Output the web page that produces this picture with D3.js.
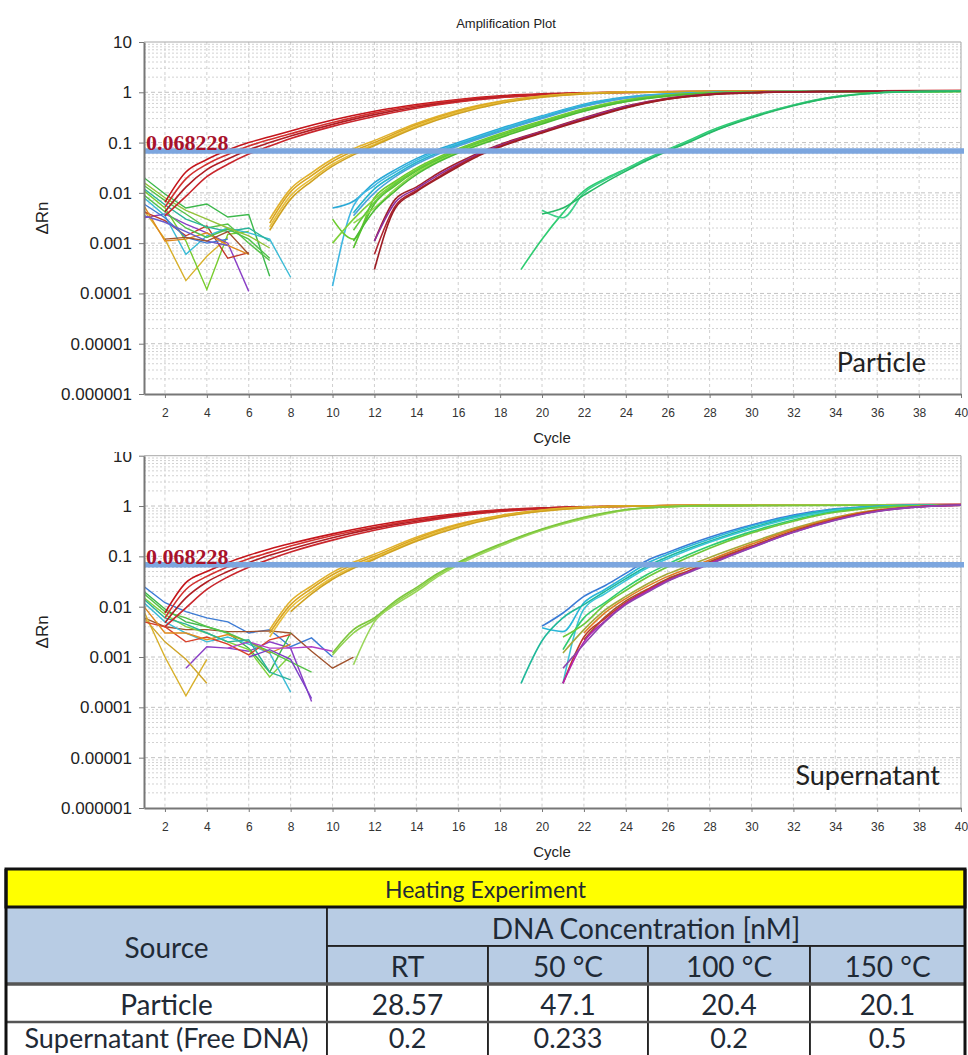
<!DOCTYPE html>
<html>
<head>
<meta charset="utf-8">
<script src="https://cdn.jsdelivr.net/npm/d3@7"></script>
<style>
  body { margin: 0; background: #fff; }
  svg { display: block; }
</style>
</head>
<body>
<div id="wrapper"></div>
<script>
// ---- chart values ----
const plotTitle = 'Amplification Plot'
const xLabel = 'Cycle'
const yLabel = 'ΔRn'
const panelLabels = ['Particle', 'Supernatant']
const cycleTicks = [2, 4, 6, 8, 10, 12, 14, 16, 18, 20, 22, 24, 26, 28, 30, 32, 34, 36, 38, 40]
const rnTicks = [10, 1, 0.1, 0.01, 0.001, 0.0001, 0.00001, 0.000001]
const rnTickLabels = ['10', '1', '0.1', '0.01', '0.001', '0.0001', '0.00001', '0.000001']
const threshold = 0.068228
const thresholdLabel = '0.068228'

// particle: amplification curves [cycle, ΔRn]
const particleAmp = [
  [[2,0.0065],[3,0.026],[4,0.046],[5,0.071],[6,0.1],[7,0.13],[8,0.17],[10,0.28],[12,0.42],[14,0.57],[16,0.72],[18,0.85],[20,0.93],[22,0.98],[26,1.03],[32,1.06],[40,1.08]],
  [[2,0.0052],[3,0.019],[4,0.037],[5,0.058],[6,0.085],[7,0.115],[8,0.15],[10,0.25],[12,0.39],[14,0.54],[16,0.69],[18,0.82],[20,0.91],[22,0.97],[26,1.02],[32,1.06],[40,1.08]],
  [[2,0.0042],[3,0.013],[4,0.029],[5,0.047],[6,0.072],[7,0.1],[8,0.135],[10,0.23],[12,0.36],[14,0.51],[16,0.66],[18,0.8],[20,0.9],[22,0.96],[26,1.02],[32,1.05],[40,1.07]],
  [[2,0.0035],[3,0.0085],[4,0.021],[5,0.037],[6,0.059],[7,0.085],[8,0.12],[10,0.21],[12,0.33],[14,0.48],[16,0.64],[18,0.78],[20,0.88],[22,0.95],[26,1.01],[32,1.05],[40,1.07]],
  [[7,0.003],[8,0.012],[9,0.025],[10,0.047],[11,0.075],[12,0.11],[14,0.24],[16,0.44],[18,0.66],[20,0.84],[22,0.96],[24,1.01],[28,1.04],[40,1.06]],
  [[7,0.0025],[8,0.0105],[9,0.022],[10,0.042],[11,0.068],[12,0.1],[14,0.225],[16,0.42],[18,0.64],[20,0.83],[22,0.95],[24,1.0],[28,1.03],[40,1.05]],
  [[7,0.0021],[8,0.0088],[9,0.019],[10,0.037],[11,0.061],[12,0.092],[14,0.21],[16,0.4],[18,0.62],[20,0.81],[22,0.94],[24,1.0],[28,1.03],[40,1.05]],
  [[7,0.0018],[8,0.0075],[9,0.017],[10,0.034],[11,0.057],[12,0.087],[14,0.2],[16,0.38],[18,0.6],[20,0.8],[22,0.93],[24,0.99],[28,1.03],[40,1.05]],
  [[10,0.005],[11,0.0068],[12,0.016],[13,0.029],[14,0.048],[15,0.072],[16,0.1],[18,0.19],[20,0.34],[22,0.58],[24,0.8],[26,0.93],[28,0.99],[32,1.03],[40,1.05]],
  [[10,0.00014],[11,0.0055],[12,0.014],[13,0.026],[14,0.044],[15,0.067],[16,0.095],[18,0.18],[20,0.33],[22,0.56],[24,0.79],[26,0.92],[28,0.99],[32,1.03],[40,1.05]],
  [[11,0.004],[12,0.012],[13,0.023],[14,0.04],[15,0.062],[16,0.09],[18,0.17],[20,0.31],[22,0.54],[24,0.77],[26,0.91],[28,0.98],[32,1.03],[40,1.05]],
  [[11,0.0035],[12,0.01],[13,0.021],[14,0.037],[15,0.058],[16,0.085],[18,0.165],[20,0.3],[22,0.52],[24,0.76],[26,0.9],[28,0.98],[32,1.03],[40,1.05]],
  [[10,0.003],[11,0.0012],[12,0.008],[13,0.017],[14,0.031],[15,0.05],[16,0.075],[18,0.15],[20,0.27],[22,0.47],[24,0.7],[26,0.88],[28,0.97],[32,1.03],[40,1.05]],
  [[10,0.001],[11,0.003],[12,0.0075],[13,0.016],[14,0.029],[15,0.047],[16,0.071],[18,0.14],[20,0.26],[22,0.46],[24,0.69],[26,0.87],[28,0.97],[32,1.03],[40,1.05]],
  [[11,0.0008],[12,0.006],[13,0.014],[14,0.027],[15,0.044],[16,0.068],[18,0.135],[20,0.25],[22,0.44],[24,0.67],[26,0.86],[28,0.96],[32,1.02],[40,1.05]],
  [[11,0.0025],[12,0.005],[13,0.012],[14,0.025],[15,0.042],[16,0.065],[18,0.13],[20,0.24],[22,0.43],[24,0.66],[26,0.85],[28,0.96],[32,1.02],[40,1.04]],
  [[11,0.0018],[12,0.0065],[13,0.015],[14,0.028],[15,0.046],[16,0.07],[18,0.14],[20,0.255],[22,0.45],[24,0.68],[26,0.87],[28,0.97],[32,1.02],[40,1.04]],
  [[11,0.0011],[12,0.0045],[13,0.011],[14,0.023],[15,0.04],[16,0.062],[18,0.125],[20,0.235],[22,0.42],[24,0.65],[26,0.84],[28,0.95],[32,1.02],[40,1.04]],
  [[12,0.0011],[13,0.0075],[14,0.013],[15,0.024],[16,0.04],[17,0.063],[18,0.092],[20,0.17],[22,0.31],[24,0.53],[26,0.76],[28,0.92],[30,0.99],[34,1.04],[40,1.07]],
  [[12,0.0011],[13,0.0065],[14,0.012],[15,0.022],[16,0.037],[17,0.06],[18,0.088],[20,0.165],[22,0.3],[24,0.52],[26,0.75],[28,0.91],[30,0.99],[34,1.04],[40,1.07]],
  [[12,0.0006],[13,0.0055],[14,0.011],[15,0.02],[16,0.035],[17,0.057],[18,0.085],[20,0.16],[22,0.29],[24,0.5],[26,0.74],[28,0.9],[30,0.98],[34,1.04],[40,1.07]],
  [[12,0.0003],[13,0.005],[14,0.0105],[15,0.019],[16,0.033],[17,0.055],[18,0.082],[20,0.155],[22,0.28],[24,0.49],[26,0.73],[28,0.9],[30,0.98],[34,1.04],[40,1.07]],
  [[19,0.0003],[20,0.0012],[21,0.004],[22,0.011],[23,0.019],[24,0.03],[25,0.048],[26,0.073],[27,0.11],[28,0.17],[30,0.33],[32,0.56],[34,0.82],[36,0.98],[38,1.04],[40,1.06]],
  [[20,0.0045],[21,0.0032],[22,0.01],[23,0.018],[24,0.029],[25,0.046],[26,0.07],[27,0.105],[28,0.16],[30,0.32],[32,0.55],[34,0.81],[36,0.97],[38,1.04],[40,1.06]],
  [[20,0.0038],[21,0.005],[22,0.009],[23,0.016],[24,0.027],[25,0.044],[26,0.068],[27,0.1],[28,0.155],[30,0.31],[32,0.54],[34,0.8],[36,0.97],[38,1.03],[40,1.05]]
]
const particleAmpColors = [
  '#c4161c', '#d2302f', '#b01e24', '#c9262c',
  '#e1b12c', '#d9a520', '#e8be3a', '#cfa11f',
  '#2aa9d6', '#3fb7e2', '#25b5c9', '#4aa3df',
  '#6acb2c', '#7fd13b', '#56c22e', '#8ed94a', '#62c83e', '#4dbb35',
  '#a3202b', '#8e2f9e', '#b0242e', '#9c1c24',
  '#2ecc71', '#3ed08a', '#26b865'
]
// particle: baseline noise [cycle, ΔRn]
const particleNoise = [
  [[1,0.02],[2,0.0095],[3,0.005],[4,0.006],[5,0.0033],[6,0.0037],[7,0.00022]],
  [[1,0.0045],[2,0.0012],[3,0.00018],[4,0.00055],[5,0.0013]],
  [[1,0.011],[2,0.005],[3,0.0011],[4,0.00012],[5,0.0015],[6,0.0017]],
  [[1,0.0032],[2,0.0038],[3,0.0024],[4,0.0016],[5,0.001],[6,0.00011]],
  [[1,0.0042],[2,0.0028],[3,0.0014],[4,0.0022],[5,0.0005],[6,0.00065]],
  [[1,0.008],[2,0.0035],[3,0.0006],[4,0.0014],[5,0.002],[6,0.0016],[7,0.0012],[8,0.00021]],
  [[1,0.006],[2,0.0032],[3,0.0013],[4,0.001],[5,0.0012]],
  [[1,0.0055],[2,0.0011],[3,0.0012],[4,0.0016],[5,0.0009],[6,0.0006]],
  [[1,0.014],[2,0.007],[3,0.0038],[4,0.002],[5,0.0024],[6,0.001],[7,0.00045]],
  [[1,0.012],[2,0.0058],[3,0.003],[4,0.0021],[5,0.0017],[6,0.002],[7,0.0011]],
  [[1,0.009],[2,0.0042],[3,0.002],[4,0.0013],[5,0.0019],[6,0.0012],[7,0.0005]],
  [[1,0.0035],[2,0.0026],[3,0.0017],[4,0.0011],[5,0.0009]],
  [[1,0.016],[2,0.008],[3,0.0045],[4,0.003],[5,0.002],[6,0.0014],[7,0.0008]],
  [[2,0.0012],[3,0.0013],[4,0.0011],[5,0.0017],[6,0.0006]]
]
const particleNoiseColors = [
  '#3cb84b', '#d8b02a', '#78cc2e', '#8a3fc6', '#c0392b', '#3bbbd6', '#3d7bd4',
  '#e08a1e', '#55c247', '#2bb39a', '#4fc14a', '#6a5acd', '#93c23a', '#a0522d'
]

// supernatant: amplification curves [cycle, ΔRn]
const supernatantAmp = [
  [[2,0.0075],[3,0.03],[4,0.05],[5,0.075],[6,0.105],[7,0.14],[8,0.18],[10,0.28],[12,0.41],[14,0.56],[16,0.71],[18,0.84],[20,0.92],[22,0.97],[26,1.02],[32,1.05],[40,1.07]],
  [[2,0.006],[3,0.022],[4,0.04],[5,0.062],[6,0.09],[7,0.12],[8,0.16],[10,0.26],[12,0.38],[14,0.53],[16,0.68],[18,0.82],[20,0.91],[22,0.96],[26,1.02],[32,1.05],[40,1.07]],
  [[2,0.0048],[3,0.015],[4,0.031],[5,0.05],[6,0.075],[7,0.105],[8,0.14],[10,0.235],[12,0.36],[14,0.5],[16,0.66],[18,0.8],[20,0.9],[22,0.96],[26,1.01],[32,1.05],[40,1.07]],
  [[2,0.004],[3,0.0095],[4,0.022],[5,0.039],[6,0.061],[7,0.088],[8,0.122],[10,0.21],[12,0.33],[14,0.47],[16,0.63],[18,0.78],[20,0.88],[22,0.95],[26,1.01],[32,1.04],[40,1.06]],
  [[7,0.0035],[8,0.013],[9,0.026],[10,0.048],[11,0.076],[12,0.11],[14,0.24],[16,0.44],[18,0.65],[20,0.83],[22,0.95],[24,1.0],[28,1.03],[40,1.05]],
  [[7,0.003],[8,0.011],[9,0.023],[10,0.043],[11,0.069],[12,0.1],[14,0.225],[16,0.42],[18,0.63],[20,0.82],[22,0.94],[24,1.0],[28,1.03],[40,1.05]],
  [[7,0.0025],[8,0.0095],[9,0.02],[10,0.038],[11,0.062],[12,0.093],[14,0.21],[16,0.4],[18,0.61],[20,0.8],[22,0.93],[24,0.99],[28,1.03],[40,1.05]],
  [[8,0.008],[9,0.018],[10,0.035],[11,0.058],[12,0.088],[14,0.2],[16,0.38],[18,0.6],[20,0.79],[22,0.92],[24,0.99],[28,1.03],[40,1.05]],
  [[10,0.0011],[11,0.003],[12,0.0055],[13,0.012],[14,0.022],[15,0.042],[16,0.072],[18,0.17],[20,0.34],[22,0.58],[24,0.84],[26,0.97],[28,1.02],[40,1.05]],
  [[11,0.0007],[12,0.005],[13,0.011],[14,0.02],[15,0.039],[16,0.068],[18,0.16],[20,0.33],[22,0.56],[24,0.83],[26,0.96],[28,1.02],[40,1.05]],
  [[10,0.0012],[11,0.0035],[12,0.006],[13,0.013],[14,0.024],[15,0.045],[16,0.076],[18,0.175],[20,0.35],[22,0.6],[24,0.85],[26,0.97],[28,1.02],[40,1.05]],
  [[20,0.0041],[21,0.0075],[22,0.016],[23,0.026],[24,0.046],[25,0.082],[26,0.12],[28,0.24],[30,0.42],[32,0.66],[34,0.88],[36,0.99],[38,1.04],[40,1.06]],
  [[20,0.0038],[21,0.0032],[22,0.012],[23,0.022],[24,0.04],[25,0.072],[26,0.11],[28,0.22],[30,0.4],[32,0.63],[34,0.86],[36,0.98],[38,1.04],[40,1.06]],
  [[19,0.0003],[20,0.0021],[21,0.006],[22,0.011],[23,0.02],[24,0.036],[25,0.063],[26,0.098],[28,0.2],[30,0.37],[32,0.6],[34,0.84],[36,0.97],[38,1.03],[40,1.05]],
  [[21,0.0003],[22,0.009],[23,0.018],[24,0.033],[25,0.058],[26,0.09],[28,0.19],[30,0.35],[32,0.58],[34,0.82],[36,0.96],[38,1.03],[40,1.05]],
  [[21,0.0014],[22,0.006],[23,0.012],[24,0.024],[25,0.043],[26,0.07],[28,0.16],[30,0.31],[32,0.53],[34,0.78],[36,0.94],[38,1.02],[40,1.05]],
  [[21,0.0025],[22,0.0045],[23,0.011],[24,0.021],[25,0.038],[26,0.062],[28,0.145],[30,0.29],[32,0.5],[34,0.75],[36,0.93],[38,1.02],[40,1.05]],
  [[21,0.0012],[22,0.0035],[23,0.0085],[24,0.016],[25,0.028],[26,0.045],[27,0.065],[28,0.095],[30,0.19],[32,0.36],[34,0.6],[36,0.84],[38,0.98],[40,1.04]],
  [[22,0.003],[23,0.0075],[24,0.0145],[25,0.025],[26,0.04],[27,0.058],[28,0.085],[30,0.175],[32,0.34],[34,0.58],[36,0.83],[38,0.98],[40,1.04]],
  [[22,0.0022],[23,0.0062],[24,0.013],[25,0.022],[26,0.036],[27,0.052],[28,0.078],[30,0.16],[32,0.32],[34,0.55],[36,0.81],[38,0.97],[40,1.04]],
  [[21,0.0003],[22,0.0025],[23,0.0058],[24,0.012],[25,0.021],[26,0.034],[27,0.05],[28,0.074],[30,0.155],[32,0.31],[34,0.54],[36,0.8],[38,0.97],[40,1.04]],
  [[21,0.0003],[22,0.002],[23,0.0052],[24,0.0115],[25,0.02],[26,0.033],[27,0.049],[28,0.072],[30,0.15],[32,0.3],[34,0.53],[36,0.79],[38,0.96],[40,1.04]],
  [[21,0.0006],[22,0.0018],[23,0.005],[24,0.011],[25,0.019],[26,0.032],[27,0.048],[28,0.07],[30,0.148],[32,0.3],[34,0.52],[36,0.78],[38,0.96],[40,1.04]]
]
const supernatantAmpColors = [
  '#c4161c', '#d2302f', '#b01e24', '#c9262c',
  '#e1b12c', '#d9a520', '#e8be3a', '#cfa11f',
  '#8fd14f', '#9ad65a', '#7cc63c',
  '#3a7bd5', '#29b6d8', '#1fb89a', '#3cc4d8', '#2ecc71', '#6cc83a',
  '#a4a83a', '#e07b22', '#a0522d', '#c0392b', '#b620b0', '#8e44ad'
]
// supernatant: baseline noise [cycle, ΔRn]
const supernatantNoise = [
  [[1,0.025],[2,0.012],[3,0.008],[4,0.006],[5,0.005],[6,0.003],[7,0.0035],[8,0.0016],[9,0.0024],[10,0.001]],
  [[1,0.006],[2,0.004],[3,0.0035],[4,0.0035],[5,0.0032],[6,0.0032],[7,0.0033],[8,0.003],[9,0.0013],[10,0.0006],[11,0.001]],
  [[3,0.0006],[4,0.0016],[5,0.0015],[6,0.0013],[7,0.002],[8,0.0015],[9,0.00013]],
  [[1,0.008],[2,0.001],[3,0.00017],[4,0.0009]],
  [[1,0.006],[2,0.002],[3,0.0009],[4,0.0003]],
  [[1,0.02],[2,0.009],[3,0.005],[4,0.004],[5,0.003],[6,0.0015],[7,0.0005],[8,0.003]],
  [[1,0.015],[2,0.007],[3,0.004],[4,0.003],[5,0.002],[6,0.0014],[7,0.0004],[8,0.0011]],
  [[1,0.012],[2,0.005],[3,0.003],[4,0.002],[5,0.0025],[6,0.0018],[7,0.0012],[8,0.0002]],
  [[1,0.005],[2,0.004],[3,0.002],[4,0.0025],[5,0.0018],[6,0.0011],[7,0.0022],[8,0.0028]],
  [[1,0.01],[2,0.003],[3,0.003],[4,0.0022],[5,0.0028],[6,0.002],[7,0.0012],[8,0.0018]],
  [[1,0.018],[2,0.008],[3,0.006],[4,0.004],[5,0.003],[6,0.002],[7,0.0013],[8,0.0008],[9,0.0005]],
  [[5,0.0015],[6,0.002],[7,0.0015],[8,0.0015],[9,0.0016],[10,0.0013]],
  [[1,0.014],[2,0.006],[3,0.0045],[4,0.003],[5,0.002],[6,0.0022],[7,0.0005],[8,0.00035]],
  [[6,0.001],[7,0.0014],[8,0.0009],[9,0.00015]]
]
const supernatantNoiseColors = [
  '#3d7bd4', '#a0522d', '#8a3fc6', '#d8b02a', '#cfa52a', '#3cb84b', '#7fd13b',
  '#3bbbd6', '#d9412b', '#e08a1e', '#55c247', '#b23fc6', '#2bb39a', '#7b3fc6'
]

// table values
const tableTitle = 'Heating Experiment'
const sourceHeader = 'Source'
const concHeader = 'DNA Concentration [nM]'
const temperatures = ['RT', '50 °C', '100 °C', '150 °C']
const sources = ['Particle', 'Supernatant (Free DNA)']
const particleConc = ['28.57', '47.1', '20.4', '20.1']
const supernatantConc = ['0.2', '0.233', '0.2', '0.5']

// ---- layout ----
const width = 968
const height = 1055
const plotLeft = 144
const plotRight = 961
const axisFont = "'Liberation Sans', Arial, sans-serif"
const narrowFont = "'Liberation Sans Narrow', 'Arial Narrow', 'Liberation Sans', sans-serif"
const calibriLike = "Lato, 'Open Sans', sans-serif"

const panels = [
  { top: 42, bottom: 394, amp: particleAmp, ampColors: particleAmpColors,
    noise: particleNoise, noiseColors: particleNoiseColors,
    label: panelLabels[0], labelRight: 926, labelBase: 372, clipTop: 0, title: true },
  { top: 455.7, bottom: 808, amp: supernatantAmp, ampColors: supernatantAmpColors,
    noise: supernatantNoise, noiseColors: supernatantNoiseColors,
    label: panelLabels[1], labelRight: 940, labelBase: 785, clipTop: 452, title: false }
]

const svg = d3.select('#wrapper')
  .append('svg')
    .attr('width', width)
    .attr('height', height)

const xScale = d3.scaleLinear()
  .domain([1, 40])
  .range([plotLeft, plotRight])

panels.forEach((p, idx) => {
  const clipId = 'panel-clip-' + idx
  svg.append('clipPath').attr('id', clipId)
    .append('rect')
      .attr('x', 0).attr('y', p.clipTop)
      .attr('width', width).attr('height', p.bottom + 60 - p.clipTop)

  const plotClipId = 'plot-clip-' + idx
  svg.append('clipPath').attr('id', plotClipId)
    .append('rect')
      .attr('x', plotLeft).attr('y', p.top)
      .attr('width', plotRight - plotLeft).attr('height', p.bottom - p.top)

  const g = svg.append('g').attr('clip-path', `url(#${clipId})`)

  const yScale = d3.scaleLog()
    .domain([0.000001, 10])
    .range([p.bottom, p.top])

  // grid
  const grid = g.append('g')
  grid.selectAll('.minor')
    .data(yScale.ticks().filter(d => !rnTicks.includes(d)))
    .join('line')
      .attr('x1', plotLeft).attr('x2', plotRight)
      .attr('y1', d => yScale(d)).attr('y2', d => yScale(d))
      .attr('stroke', '#d2d2d2')
      .attr('stroke-dasharray', '2,2')
  grid.selectAll('.major')
    .data(rnTicks.slice(1, -1))
    .join('line')
      .attr('x1', plotLeft).attr('x2', plotRight)
      .attr('y1', d => yScale(d)).attr('y2', d => yScale(d))
      .attr('stroke', '#c2c2c2')
      .attr('stroke-dasharray', '4,3')
  grid.selectAll('.vert')
    .data(cycleTicks.slice(0, -1))
    .join('line')
      .attr('x1', d => xScale(d)).attr('x2', d => xScale(d))
      .attr('y1', p.top).attr('y2', p.bottom)
      .attr('stroke', '#cfcfcf')
      .attr('stroke-dasharray', '3,3')

  // frame (top and right)
  g.append('path')
    .attr('d', `M${plotLeft},${p.top}H${plotRight}V${p.bottom}`)
    .attr('fill', 'none')
    .attr('stroke', '#a8a8a8')

  // curves
  const curves = g.append('g').attr('clip-path', `url(#${plotClipId})`)
  const noiseLine = d3.line()
    .x(d => xScale(d[0]))
    .y(d => yScale(d[1]))
  const ampLine = d3.line()
    .x(d => xScale(d[0]))
    .y(d => yScale(d[1]))
    .curve(d3.curveMonotoneX)

  curves.selectAll('.noise')
    .data(p.noise)
    .join('path')
      .attr('d', noiseLine)
      .attr('fill', 'none')
      .attr('stroke', (d, i) => p.noiseColors[i])
      .attr('stroke-width', 1.4)
  curves.selectAll('.amp')
    .data(p.amp)
    .join('path')
      .attr('d', ampLine)
      .attr('fill', 'none')
      .attr('stroke', (d, i) => p.ampColors[i])
      .attr('stroke-width', 1.6)

  // threshold
  const ty = yScale(threshold)
  g.append('line')
    .attr('x1', plotLeft).attr('x2', plotRight + 3)
    .attr('y1', ty).attr('y2', ty)
    .attr('stroke', '#7ca6df')
    .attr('stroke-width', 5.5)
  g.append('text')
    .attr('x', plotLeft + 2)
    .attr('y', ty - 1)
    .attr('font-family', "'Liberation Serif', 'Times New Roman', serif")
    .attr('font-weight', 'bold')
    .attr('font-size', 22)
    .attr('fill', '#a8122b')
    .text(thresholdLabel)

  // axes
  const yAxis = d3.axisLeft(yScale)
    .tickValues(rnTicks)
    .tickFormat((d, i) => rnTickLabels[i])
    .tickSize(5)
    .tickSizeOuter(0)
    .tickPadding(7)
  g.append('g')
    .attr('transform', `translate(${plotLeft},0)`)
    .call(yAxis)
    .call(a => a.select('.domain').attr('stroke', '#777').attr('stroke-width', 2))
    .call(a => a.selectAll('.tick line').attr('stroke', '#777'))
    .call(a => a.selectAll('.tick text')
      .attr('font-family', axisFont)
      .attr('font-size', 17)
      .attr('fill', '#222'))

  const xAxis = d3.axisBottom(xScale)
    .tickValues(cycleTicks)
    .tickSize(4)
    .tickSizeOuter(0)
    .tickPadding(10)
  g.append('g')
    .attr('transform', `translate(0,${p.bottom})`)
    .call(xAxis)
    .call(a => a.select('.domain').attr('stroke', '#777').attr('stroke-width', 2))
    .call(a => a.selectAll('.tick line').attr('stroke', '#777'))
    .call(a => a.selectAll('.tick text')
      .attr('font-family', narrowFont)
      .attr('font-size', 12)
      .attr('fill', '#333'))

  // labels
  g.append('text')
    .attr('x', 552)
    .attr('y', p.bottom + 49)
    .attr('text-anchor', 'middle')
    .attr('font-family', axisFont)
    .attr('font-size', 15)
    .attr('fill', '#222')
    .text(xLabel)

  g.append('text')
    .attr('transform', `translate(48,${(p.top + p.bottom) / 2}) rotate(-90)`)
    .attr('text-anchor', 'middle')
    .attr('font-family', axisFont)
    .attr('font-size', 17)
    .attr('fill', '#222')
    .text(yLabel)

  g.append('text')
    .attr('x', p.labelRight)
    .attr('y', p.labelBase)
    .attr('text-anchor', 'end')
    .attr('font-family', calibriLike)
    .attr('font-size', 27)
    .attr('fill', '#222')
    .text(p.label)

  if (p.title) {
    svg.append('text')
      .attr('x', 506)
      .attr('y', 28)
      .attr('text-anchor', 'middle')
      .attr('font-family', axisFont)
      .attr('font-size', 13)
      .attr('fill', '#222')
      .text(plotTitle)
  }
})

// ---- table ----
const colEdges = [6, 327, 488, 648, 810, 965]
const rowEdges = [869, 907, 946, 984, 1022, 1056]
const yellow = '#ffff00'
const blue = '#b8cce4'

const cells = [
  { c0: 0, c1: 5, r0: 0, r1: 1, text: tableTitle, fill: yellow, size: 23, dy: 1 },
  { c0: 0, c1: 1, r0: 1, r1: 3, text: sourceHeader, fill: blue, size: 28, dy: 1 },
  { c0: 1, c1: 5, r0: 1, r1: 2, text: concHeader, fill: blue, size: 28, dy: 1 }
]
temperatures.forEach((t, i) => cells.push({ c0: i + 1, c1: i + 2, r0: 2, r1: 3, text: t, fill: blue, size: 28, dy: 1 }))
;[particleConc, supernatantConc].forEach((vals, r) => {
  // last row sits at the page edge, keep its text inside
  const size = r === 0 ? 28 : 27
  const dy = r === 0 ? 1 : -2
  cells.push({ c0: 0, c1: 1, r0: r + 3, r1: r + 4, text: sources[r], fill: '#fff', size, dy })
  vals.forEach((v, i) => cells.push({ c0: i + 1, c1: i + 2, r0: r + 3, r1: r + 4, text: v, fill: '#fff', size, dy }))
})

const table = svg.append('g')
table.selectAll('rect')
  .data(cells)
  .join('rect')
    .attr('x', d => colEdges[d.c0])
    .attr('y', d => rowEdges[d.r0])
    .attr('width', d => colEdges[d.c1] - colEdges[d.c0])
    .attr('height', d => rowEdges[d.r1] - rowEdges[d.r0])
    .attr('fill', d => d.fill)
    .attr('stroke', '#222')
    .attr('stroke-width', 1.8)

// heavier rules
table.append('rect')
  .attr('x', colEdges[0]).attr('y', rowEdges[0])
  .attr('width', colEdges[5] - colEdges[0]).attr('height', rowEdges[1] - rowEdges[0])
  .attr('fill', 'none').attr('stroke', '#111').attr('stroke-width', 3)
table.append('line')
  .attr('x1', colEdges[0]).attr('x2', colEdges[5])
  .attr('y1', rowEdges[3]).attr('y2', rowEdges[3])
  .attr('stroke', '#555').attr('stroke-width', 3.5)
table.append('line')
  .attr('x1', colEdges[0]).attr('x2', colEdges[5])
  .attr('y1', rowEdges[4]).attr('y2', rowEdges[4])
  .attr('stroke', '#555').attr('stroke-width', 2.5)
table.append('path')
  .attr('d', `M${colEdges[0]},${rowEdges[0]}V${height + 5}M${colEdges[5]},${rowEdges[0]}V${height + 5}`)
  .attr('stroke', '#111').attr('stroke-width', 3)

table.selectAll('text')
  .data(cells)
  .join('text')
    .attr('x', d => (colEdges[d.c0] + colEdges[d.c1]) / 2)
    .attr('y', d => (rowEdges[d.r0] + rowEdges[d.r1]) / 2 + d.dy)
    .attr('dominant-baseline', 'central')
    .attr('text-anchor', 'middle')
    .attr('font-family', calibriLike)
    .attr('font-size', d => d.size)
    .attr('fill', '#1f2a36')
    .text(d => d.text)
</script>
</body>
</html>
